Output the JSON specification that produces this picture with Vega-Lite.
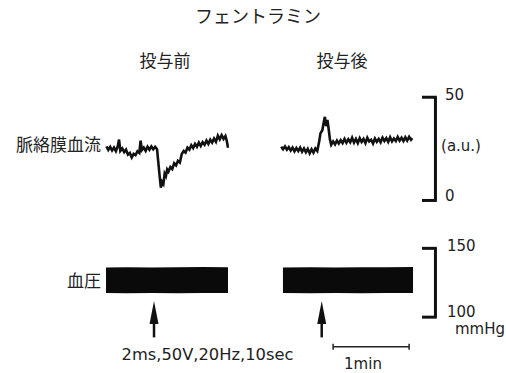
{
  "$schema": "https://vega.github.io/schema/vega-lite/v6.json",
  "width": 506,
  "height": 373,
  "autosize": {"type": "fit", "contains": "padding"},
  "padding": 0,
  "background": "white",
  "config": {"view": {"stroke": null}},
  "datasets": {
    "flow": [
      {"seg":"pre","t":84,"v":26.2},{"seg":"pre","t":85.5,"v":24.5},{"seg":"pre","t":87,"v":26.0},{"seg":"pre","t":88.5,"v":24.2},{"seg":"pre","t":90,"v":25.6},{"seg":"pre","t":91.5,"v":23.9},{"seg":"pre","t":93,"v":26.3},{"seg":"pre","t":94,"v":29.5},{"seg":"pre","t":95,"v":24.0},{"seg":"pre","t":96.5,"v":25.2},{"seg":"pre","t":98,"v":23.4},{"seg":"pre","t":99.5,"v":24.6},{"seg":"pre","t":101,"v":22.2},{"seg":"pre","t":102.5,"v":23.0},{"seg":"pre","t":104,"v":20.8},{"seg":"pre","t":105.5,"v":22.6},{"seg":"pre","t":107,"v":22.0},{"seg":"pre","t":108.5,"v":23.8},{"seg":"pre","t":110,"v":23.0},{"seg":"pre","t":111,"v":29.0},{"seg":"pre","t":112,"v":24.4},{"seg":"pre","t":113.5,"v":25.6},{"seg":"pre","t":115,"v":24.0},{"seg":"pre","t":116.5,"v":26.0},{"seg":"pre","t":118,"v":24.6},{"seg":"pre","t":119.5,"v":26.2},{"seg":"pre","t":121,"v":24.8},{"seg":"pre","t":122.5,"v":26.0},{"seg":"pre","t":124,"v":24.8},{"seg":"pre","t":125,"v":18.5},{"seg":"pre","t":126,"v":12.0},{"seg":"pre","t":127,"v":6.2},{"seg":"pre","t":128,"v":9.0},{"seg":"pre","t":129,"v":8.0},{"seg":"pre","t":130,"v":13.0},{"seg":"pre","t":131,"v":11.8},{"seg":"pre","t":132,"v":15.0},{"seg":"pre","t":133,"v":14.0},{"seg":"pre","t":134.5,"v":16.2},{"seg":"pre","t":136,"v":15.2},{"seg":"pre","t":137.5,"v":18.0},{"seg":"pre","t":139,"v":17.0},{"seg":"pre","t":140.5,"v":19.2},{"seg":"pre","t":142,"v":18.4},{"seg":"pre","t":143.5,"v":22.5},{"seg":"pre","t":145,"v":24.0},{"seg":"pre","t":146.5,"v":23.2},{"seg":"pre","t":148,"v":25.6},{"seg":"pre","t":149.5,"v":24.6},{"seg":"pre","t":151,"v":26.8},{"seg":"pre","t":152.5,"v":25.4},{"seg":"pre","t":154,"v":27.4},{"seg":"pre","t":155.5,"v":26.0},{"seg":"pre","t":157,"v":28.0},{"seg":"pre","t":158.5,"v":26.4},{"seg":"pre","t":160,"v":28.2},{"seg":"pre","t":161.5,"v":27.0},{"seg":"pre","t":163,"v":29.0},{"seg":"pre","t":164.5,"v":27.4},{"seg":"pre","t":166,"v":29.4},{"seg":"pre","t":167.5,"v":28.0},{"seg":"pre","t":169,"v":30.0},{"seg":"pre","t":170.5,"v":28.4},{"seg":"pre","t":172,"v":31.4},{"seg":"pre","t":173.5,"v":29.6},{"seg":"pre","t":175,"v":31.6},{"seg":"pre","t":176.5,"v":29.8},{"seg":"pre","t":178,"v":31.2},{"seg":"pre","t":179,"v":29.0},{"seg":"pre","t":180,"v":25.5},
      {"seg":"post","t":222,"v":26.0},{"seg":"post","t":223.5,"v":24.8},{"seg":"post","t":225,"v":26.2},{"seg":"post","t":226.5,"v":24.6},{"seg":"post","t":228,"v":25.8},{"seg":"post","t":229.5,"v":24.2},{"seg":"post","t":231,"v":25.6},{"seg":"post","t":232.5,"v":23.8},{"seg":"post","t":234,"v":25.4},{"seg":"post","t":235.5,"v":24.0},{"seg":"post","t":237,"v":25.6},{"seg":"post","t":238.5,"v":23.6},{"seg":"post","t":240,"v":25.2},{"seg":"post","t":241.5,"v":23.4},{"seg":"post","t":243,"v":25.0},{"seg":"post","t":244.5,"v":22.8},{"seg":"post","t":246,"v":24.8},{"seg":"post","t":247.5,"v":23.2},{"seg":"post","t":249,"v":25.2},{"seg":"post","t":250.5,"v":24.0},{"seg":"post","t":252,"v":28.5},{"seg":"post","t":253,"v":32.5},{"seg":"post","t":254.5,"v":34.0},{"seg":"post","t":255.5,"v":37.5},{"seg":"post","t":256.5,"v":40.5},{"seg":"post","t":257.5,"v":36.0},{"seg":"post","t":258.5,"v":39.0},{"seg":"post","t":259.5,"v":34.5},{"seg":"post","t":260.5,"v":29.5},{"seg":"post","t":261.5,"v":27.0},{"seg":"post","t":263,"v":28.6},{"seg":"post","t":264.5,"v":27.2},{"seg":"post","t":266,"v":29.0},{"seg":"post","t":267.5,"v":27.6},{"seg":"post","t":269,"v":29.2},{"seg":"post","t":270.5,"v":27.8},{"seg":"post","t":272,"v":29.8},{"seg":"post","t":273.5,"v":28.0},{"seg":"post","t":275,"v":29.6},{"seg":"post","t":276.5,"v":28.2},{"seg":"post","t":278,"v":30.4},{"seg":"post","t":279.5,"v":28.0},{"seg":"post","t":281,"v":29.8},{"seg":"post","t":282.5,"v":27.8},{"seg":"post","t":284,"v":30.2},{"seg":"post","t":285.5,"v":28.4},{"seg":"post","t":287,"v":29.8},{"seg":"post","t":288.5,"v":27.8},{"seg":"post","t":290,"v":30.4},{"seg":"post","t":291.5,"v":28.6},{"seg":"post","t":293,"v":29.4},{"seg":"post","t":294.5,"v":27.6},{"seg":"post","t":296,"v":30.0},{"seg":"post","t":297.5,"v":28.4},{"seg":"post","t":299,"v":29.8},{"seg":"post","t":300.5,"v":28.2},{"seg":"post","t":302,"v":30.4},{"seg":"post","t":303.5,"v":28.8},{"seg":"post","t":305,"v":30.2},{"seg":"post","t":306.5,"v":28.4},{"seg":"post","t":308,"v":30.6},{"seg":"post","t":309.5,"v":28.6},{"seg":"post","t":311,"v":30.0},{"seg":"post","t":312.5,"v":28.8},{"seg":"post","t":314,"v":30.8},{"seg":"post","t":315.5,"v":29.0},{"seg":"post","t":317,"v":30.4},{"seg":"post","t":318.5,"v":28.8},{"seg":"post","t":320,"v":30.6},{"seg":"post","t":321.5,"v":29.0},{"seg":"post","t":323,"v":30.8},{"seg":"post","t":324.5,"v":29.4},{"seg":"post","t":325.5,"v":30.2}
    ],
    "bp": [
      {"seg":"pre","t":83.7,"lo":117.6,"hi":136.0},{"seg":"pre","t":100,"lo":117.3,"hi":136.3},{"seg":"pre","t":120,"lo":117.6,"hi":136.1},{"seg":"pre","t":140,"lo":117.4,"hi":136.2},{"seg":"pre","t":160,"lo":117.5,"hi":136.4},{"seg":"pre","t":180,"lo":117.6,"hi":136.2},
      {"seg":"post","t":223.4,"lo":117.5,"hi":136.1},{"seg":"post","t":245,"lo":117.3,"hi":136.3},{"seg":"post","t":265,"lo":117.6,"hi":136.0},{"seg":"post","t":285,"lo":117.4,"hi":136.3},{"seg":"post","t":305,"lo":117.5,"hi":136.2},{"seg":"post","t":326.1,"lo":117.6,"hi":136.4}
    ],
    "flowBracket": [
      {"t":343.8,"t2":343.8,"v":0,"v2":50},{"t":333.2,"t2":344.9,"v":0,"v2":0},{"t":333.2,"t2":344.9,"v":50,"v2":50}
    ],
    "bpBracket": [
      {"t":343.8,"t2":343.8,"v":100,"v2":150},{"t":333.2,"t2":344.9,"v":100,"v2":100},{"t":333.2,"t2":344.9,"v":150,"v2":150}
    ],
    "timeBar": [
      {"t":263,"t2":323,"v":78.5,"v2":78.5},{"t":263,"t2":263,"v":76.3,"v2":80.7},{"t":323,"t2":323,"v":76.3,"v2":80.7}
    ],
    "arrows": [
      {"t":121.6,"t2":121.6,"v":85.3,"v2":101},{"t":254.0,"t2":254.0,"v":85.3,"v2":101}
    ],
    "arrowHeads": [
      {"t":121.6,"v":103.3},{"t":254.0,"v":103.3}
    ],
    "flowUnits": [
      {"t":351.3,"v":51.2,"label":"50"},{"t":348.2,"v":26.6,"label":"(a.u.)"},{"t":351.3,"v":2.1,"label":"0"}
    ],
    "bpUnits": [
      {"t":352.9,"v":151.4,"label":"150"},{"t":352.9,"v":103.6,"label":"100"},{"t":359.2,"v":91.3,"label":"mmHg"}
    ],
    "stimText": [
      {"t":163.8,"v":72.5,"label":"2ms,50V,20Hz,10sec"}
    ],
    "timeText": [
      {"t":286.6,"v":65.9,"label":"1min"}
    ],
    "drugTitle": [
      {"t":203.7,"v":88.4,"label":"フェントラミン"}
    ],
    "phase": [
      {"t":130.3,"v":67.1,"label":"投与前"},{"t":270.0,"v":67.1,"label":"投与後"}
    ],
    "flowName": [{"t":79.7,"v":26.6,"label":"脈絡膜血流"}],
    "bpName": [{"t":79.7,"v":125.4,"label":"血圧"}]
  },
  "layer": [
    {
      "data": {"name": "bp"},
      "mark": {"type": "area", "color": "#0a0a0a", "opacity": 1},
      "encoding": {
        "x": {"field": "t", "type": "quantitative", "scale": {"domain": [0, 399.5], "nice": false, "zero": false}, "axis": null},
        "y": {"field": "hi", "type": "quantitative", "scale": {"domain": [60.15, 330.43], "nice": false, "zero": false}, "axis": null},
        "y2": {"field": "lo"},
        "detail": {"field": "seg"}
      }
    },
    {
      "data": {"name": "flow"},
      "mark": {"type": "line", "color": "#111", "strokeWidth": 2.6},
      "encoding": {
        "x": {"field": "t", "type": "quantitative", "scale": {"domain": [0, 399.5], "nice": false, "zero": false}, "axis": null},
        "y": {"field": "v", "type": "quantitative", "scale": {"domain": [-83.09, 97.1], "nice": false, "zero": false}, "axis": null},
        "detail": {"field": "seg"}
      }
    },
    {
      "data": {"name": "flowBracket"},
      "mark": {"type": "rule", "color": "#111", "strokeWidth": 3},
      "encoding": {
        "x": {"field": "t", "type": "quantitative", "scale": {"domain": [0, 399.5], "nice": false, "zero": false}, "axis": null},
        "x2": {"field": "t2"},
        "y": {"field": "v", "type": "quantitative", "scale": {"domain": [-83.09, 97.1], "nice": false, "zero": false}, "axis": null},
        "y2": {"field": "v2"}
      }
    },
    {
      "data": {"name": "bpBracket"},
      "mark": {"type": "rule", "color": "#111", "strokeWidth": 3},
      "encoding": {
        "x": {"field": "t", "type": "quantitative", "scale": {"domain": [0, 399.5], "nice": false, "zero": false}, "axis": null},
        "x2": {"field": "t2"},
        "y": {"field": "v", "type": "quantitative", "scale": {"domain": [60.15, 330.43], "nice": false, "zero": false}, "axis": null},
        "y2": {"field": "v2"}
      }
    },
    {
      "data": {"name": "timeBar"},
      "mark": {"type": "rule", "color": "#222", "strokeWidth": 1.5},
      "encoding": {
        "x": {"field": "t", "type": "quantitative", "scale": {"domain": [0, 399.5], "nice": false, "zero": false}, "axis": null},
        "x2": {"field": "t2"},
        "y": {"field": "v", "type": "quantitative", "scale": {"domain": [60.15, 330.43], "nice": false, "zero": false}, "axis": null},
        "y2": {"field": "v2"}
      }
    },
    {
      "data": {"name": "arrows"},
      "mark": {"type": "rule", "color": "#111", "strokeWidth": 2.5},
      "encoding": {
        "x": {"field": "t", "type": "quantitative", "scale": {"domain": [0, 399.5], "nice": false, "zero": false}, "axis": null},
        "x2": {"field": "t2"},
        "y": {"field": "v", "type": "quantitative", "scale": {"domain": [60.15, 330.43], "nice": false, "zero": false}, "axis": null},
        "y2": {"field": "v2"}
      }
    },
    {
      "data": {"name": "arrowHeads"},
      "mark": {"type": "point", "shape": "M0,-1L0.39,1L-0.39,1Z", "filled": true, "size": 529, "color": "#111", "opacity": 1, "strokeWidth": 0},
      "encoding": {
        "x": {"field": "t", "type": "quantitative", "scale": {"domain": [0, 399.5], "nice": false, "zero": false}, "axis": null},
        "y": {"field": "v", "type": "quantitative", "scale": {"domain": [60.15, 330.43], "nice": false, "zero": false}, "axis": null}
      }
    },
    {
      "data": {"name": "flowUnits"},
      "mark": {"type": "text", "align": "left", "baseline": "middle", "font": "DejaVu Sans", "fontSize": 15, "color": "#222"},
      "encoding": {
        "x": {"field": "t", "type": "quantitative", "scale": {"domain": [0, 399.5], "nice": false, "zero": false}, "axis": null},
        "y": {"field": "v", "type": "quantitative", "scale": {"domain": [-83.09, 97.1], "nice": false, "zero": false}, "axis": null},
        "text": {"field": "label"}
      }
    },
    {
      "data": {"name": "bpUnits"},
      "mark": {"type": "text", "align": "left", "baseline": "middle", "font": "DejaVu Sans", "fontSize": 15, "color": "#222"},
      "encoding": {
        "x": {"field": "t", "type": "quantitative", "scale": {"domain": [0, 399.5], "nice": false, "zero": false}, "axis": null},
        "y": {"field": "v", "type": "quantitative", "scale": {"domain": [60.15, 330.43], "nice": false, "zero": false}, "axis": null},
        "text": {"field": "label"}
      }
    },
    {
      "data": {"name": "stimText"},
      "mark": {"type": "text", "align": "center", "baseline": "middle", "font": "DejaVu Sans", "fontSize": 16.3, "color": "#222"},
      "encoding": {
        "x": {"field": "t", "type": "quantitative", "scale": {"domain": [0, 399.5], "nice": false, "zero": false}, "axis": null},
        "y": {"field": "v", "type": "quantitative", "scale": {"domain": [60.15, 330.43], "nice": false, "zero": false}, "axis": null},
        "text": {"field": "label"}
      }
    },
    {
      "data": {"name": "timeText"},
      "mark": {"type": "text", "align": "center", "baseline": "middle", "font": "DejaVu Sans", "fontSize": 15, "color": "#222"},
      "encoding": {
        "x": {"field": "t", "type": "quantitative", "scale": {"domain": [0, 399.5], "nice": false, "zero": false}, "axis": null},
        "y": {"field": "v", "type": "quantitative", "scale": {"domain": [60.15, 330.43], "nice": false, "zero": false}, "axis": null},
        "text": {"field": "label"}
      }
    },
    {
      "data": {"name": "drugTitle"},
      "mark": {"type": "text", "align": "center", "baseline": "middle", "font": "Noto Sans CJK JP", "fontSize": 18, "color": "#222"},
      "encoding": {
        "x": {"field": "t", "type": "quantitative", "scale": {"domain": [0, 399.5], "nice": false, "zero": false}, "axis": null},
        "y": {"field": "v", "type": "quantitative", "scale": {"domain": [-83.09, 97.1], "nice": false, "zero": false}, "axis": null},
        "text": {"field": "label"}
      }
    },
    {
      "data": {"name": "phase"},
      "mark": {"type": "text", "align": "center", "baseline": "middle", "font": "Noto Sans CJK JP", "fontSize": 17, "color": "#222"},
      "encoding": {
        "x": {"field": "t", "type": "quantitative", "scale": {"domain": [0, 399.5], "nice": false, "zero": false}, "axis": null},
        "y": {"field": "v", "type": "quantitative", "scale": {"domain": [-83.09, 97.1], "nice": false, "zero": false}, "axis": null},
        "text": {"field": "label"}
      }
    },
    {
      "data": {"name": "flowName"},
      "mark": {"type": "text", "align": "right", "baseline": "middle", "font": "Noto Sans CJK JP", "fontSize": 17, "color": "#222"},
      "encoding": {
        "x": {"field": "t", "type": "quantitative", "scale": {"domain": [0, 399.5], "nice": false, "zero": false}, "axis": null},
        "y": {"field": "v", "type": "quantitative", "scale": {"domain": [-83.09, 97.1], "nice": false, "zero": false}, "axis": null},
        "text": {"field": "label"}
      }
    },
    {
      "data": {"name": "bpName"},
      "mark": {"type": "text", "align": "right", "baseline": "middle", "font": "Noto Sans CJK JP", "fontSize": 17, "color": "#222"},
      "encoding": {
        "x": {"field": "t", "type": "quantitative", "scale": {"domain": [0, 399.5], "nice": false, "zero": false}, "axis": null},
        "y": {"field": "v", "type": "quantitative", "scale": {"domain": [60.15, 330.43], "nice": false, "zero": false}, "axis": null},
        "text": {"field": "label"}
      }
    }
  ],
  "resolve": {"scale": {"y": "independent"}}
}
